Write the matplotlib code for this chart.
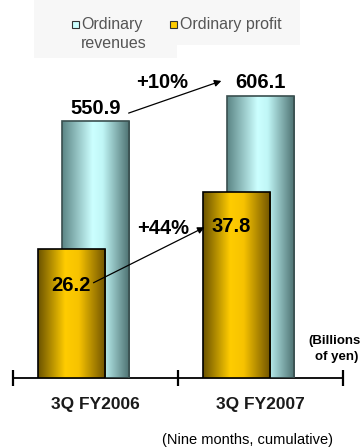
import numpy as np
import matplotlib.pyplot as plt
from matplotlib.colors import LinearSegmentedColormap
from matplotlib.patches import Rectangle

plt.rcParams['font.family'] = ['Liberation Sans', 'DejaVu Sans']

periods = ['3Q FY2006', '3Q FY2007']
revenues = [550.9, 606.1]
profit = [26.2, 37.8]
growth_labels = ['+10%', '+44%']

W, H = 360, 447
fig = plt.figure(figsize=(W / 100, H / 100), dpi=100)


def px(x, y):
    # pixel position (from top-left) -> figure fraction
    return x / W, 1 - y / H


# faint backdrop behind the legend
fig.patches.append(Rectangle(px(34, 45), 266 / W, 45 / H, transform=fig.transFigure,
                             facecolor='#f7f7f7', edgecolor='none', zorder=0))
fig.patches.append(Rectangle(px(34, 58), 143 / W, 13 / H, transform=fig.transFigure,
                             facecolor='#f7f7f7', edgecolor='none', zorder=0))

ax_bottom, ax_top = 378, 60
ax = fig.add_axes([13 / W, (H - ax_bottom) / H, 330 / W, (ax_bottom - ax_top) / H])
ax2 = ax.twinx()

rev_cmap = LinearSegmentedColormap.from_list(
    'rev', [(0, '#5b8585'), (0.45, '#ccffff'), (0.6, '#c0f6f6'), (1, '#4b6f6f')])
prof_cmap = LinearSegmentedColormap.from_list(
    'prof', [(0, '#6b5300'), (0.4, '#ffcc00'), (0.6, '#f7c300'), (1, '#6e5200')])
grad = np.linspace(0, 1, 256).reshape(1, -1)


def shaded_bars(axis, xs, vals, width, cmap, edge):
    bars = axis.bar(xs, vals, width, color='none', edgecolor=edge, linewidth=1.2, zorder=3)
    for b in bars:
        x0, w, h = b.get_x(), b.get_width(), b.get_height()
        im = axis.imshow(grad, cmap=cmap, aspect='auto', extent=(x0, x0 + w, 0, h),
                         zorder=2, interpolation='bilinear')
        im.set_clip_path(b)
    return bars


x = np.array([0.5, 1.5])
bar_w = 0.41
shaded_bars(ax, x, revenues, bar_w, rev_cmap, '#3a4f4f')
shaded_bars(ax2, x - 0.145, profit, bar_w, prof_cmap, 'black')

ax.set_xlim(0, 2)
ax.set_ylim(0, (ax_bottom - ax_top) / 0.4658)
ax2.set_ylim(0, (ax_bottom - ax_top) / 4.92)
for a in (ax, ax2):
    a.set_yticks([])
    for s in a.spines.values():
        s.set_visible(False)
ax.spines['bottom'].set_visible(True)
ax.spines['bottom'].set_linewidth(1.3)
ax.set_xticks([0, 1, 2])
ax.set_xticklabels([])
ax.tick_params(axis='x', direction='inout', length=11, width=1.6, color='black')
ax.set_zorder(0)
ax2.set_zorder(1)
ax.patch.set_visible(False)
ax2.patch.set_visible(False)

# value labels
val_font = dict(fontsize=14.5, fontweight='bold')
ax.text(x[0], revenues[0] + 8, f'{revenues[0]:.1f}', ha='center', va='bottom', **val_font)
ax.text(x[1], revenues[1] + 8, f'{revenues[1]:.1f}', ha='center', va='bottom', **val_font)
ax2.text(x[0] - 0.15, profit[0] * 0.714, f'{profit[0]:.1f}', ha='center', va='center',
         zorder=5, **val_font)
ax2.text(x[1] - 0.175, profit[1] * 0.812, f'{profit[1]:.1f}', ha='center', va='center',
         zorder=5, **val_font)

# growth arrows
arrow = dict(arrowstyle='-|>', color='black', lw=0.9, mutation_scale=10)
fig.add_artist(plt.Annotation('', xy=px(224, 80), xytext=px(126, 114),
                              xycoords='figure fraction', arrowprops=arrow))
fig.add_artist(plt.Annotation('', xy=px(207, 226), xytext=px(91, 284),
                              xycoords='figure fraction', arrowprops=arrow))
fig.text(*px(162, 83), growth_labels[0], ha='center', va='center', **val_font)
fig.text(*px(163, 228), growth_labels[1], ha='center', va='center', **val_font)

# category labels
for i, p in enumerate(periods):
    fig.text(*px(13 + 165 * (i + 0.5), 404), p, ha='center', va='center',
             fontsize=12.5, fontweight='bold', color='#1a1a1a')

fig.text(*px(361, 341), '(Billions', ha='right', va='center', fontsize=9.5, fontweight='bold')
fig.text(*px(358, 357), 'of yen)', ha='right', va='center', fontsize=9.5, fontweight='bold')
fig.text(*px(248, 440), '(Nine months, cumulative)', ha='center', va='center', fontsize=10.5)

# legend
fig.patches.append(Rectangle(px(72, 28), 7 / W, 7 / H, transform=fig.transFigure,
                             facecolor='#ccffff', edgecolor='#333333', linewidth=0.8))
fig.patches.append(Rectangle(px(170, 28), 7 / W, 7 / H, transform=fig.transFigure,
                             facecolor='#ffcc00', edgecolor='#333333', linewidth=0.8))
fig.text(*px(81, 24), 'Ordinary', ha='left', va='center', fontsize=11.5, color='#555555')
fig.text(*px(81, 43), 'revenues', ha='left', va='center', fontsize=11.5, color='#555555')
fig.text(*px(180, 24), 'Ordinary profit', ha='left', va='center', fontsize=11.5, color='#555555')

fig.savefig('out.png', dpi=100)
